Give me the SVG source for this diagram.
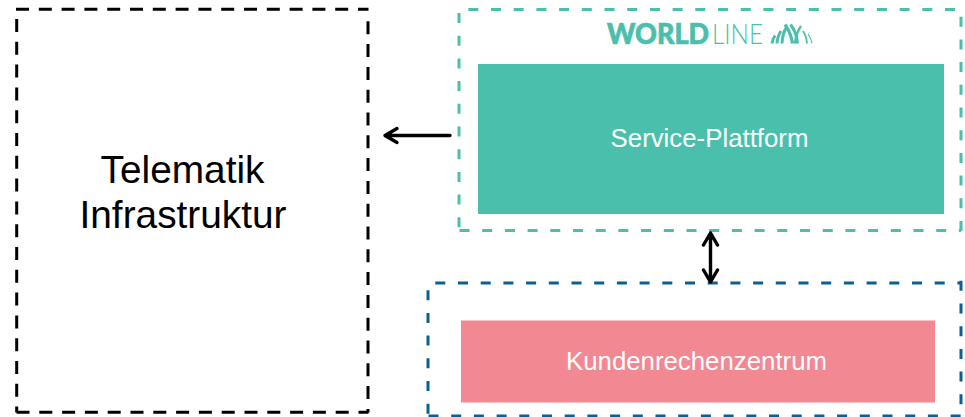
<svg xmlns="http://www.w3.org/2000/svg" width="965" height="417" viewBox="0 0 965 417">
<defs>
<style>
.box{fill:none;stroke-width:3}
.k{stroke:#000;stroke-dasharray:13 9.8}
.t{stroke:#4abfab;stroke-dasharray:10 12.700}
.n{stroke:#0d5f8f;stroke-dasharray:10 12.700}
.lbl{font-family:"Liberation Sans",Arial,sans-serif;text-anchor:middle}
.w{fill:#fff;font-size:25.800px}
.b{fill:#000;font-size:38.800px}
.conn{fill:none;stroke:#000;stroke-width:3.400;stroke-linecap:round;stroke-linejoin:round}
.wave{fill:none;stroke:#4abfab}
</style>
</defs>
<rect width="965" height="417" fill="#fff"/>
<g id="telematik">
<path class="box k" d="M16 9.300H368.500M16.700 19V412.500M368 21.300V412.500M16.500 412.300H368.500"/>
<text class="lbl b" x="182.500" y="183">Telematik</text>
<text class="lbl b" x="183" y="228">Infrastruktur</text>
</g>
<g id="worldline">
<path class="box t" d="M468.300 9.500H961M459 13V230M961 16.700V231.500M459.500 230.500H961"/>
<text x="607" y="44.300" font-family="Lato,sans-serif" font-size="28" font-weight="900" fill="#4abfab" stroke="#4abfab" stroke-width="0.700" textLength="102" lengthAdjust="spacingAndGlyphs">WORLD</text>
<text x="712" y="44.300" font-family="Lato,sans-serif" font-size="28" font-weight="300" fill="#4abfab" textLength="51" lengthAdjust="spacingAndGlyphs">LINE</text>
<g class="wave">
<path stroke-width="3" d="M772 43.500Q772.500 39 775 35.500"/>
<path stroke-width="3" d="M777 43.500Q777.500 36 781 31"/>
<path stroke-width="3" d="M782 43.500Q782.500 33 786.500 27.500"/>
<path stroke-width="3.200" d="M785 24.500Q791 33 792.500 43.500"/>
<path stroke-width="3" d="M790.500 24.500Q796.500 32 797.500 43.500"/>
<path stroke-width="2.400" d="M801 26Q796 33 795 43.500"/>
<path stroke-width="1.800" d="M803 31Q806.500 36 807 43.500"/>
<path stroke-width="1.200" d="M808 34Q811 38 812 43.500"/>
</g>
</g>
<g id="service-plattform">
<rect x="478" y="64" width="466" height="150" fill="#4abfab"/>
<text class="lbl w" x="709.500" y="147">Service-Plattform</text>
</g>
<g id="kundenrechenzentrum-frame">
<path class="box n" d="M435.300 283H961M428 290.200V416.500M961 280.800V416.500M428.500 416H961"/>
</g>
<g id="kundenrechenzentrum">
<rect x="461" y="320.500" width="474" height="82" fill="#f28891"/>
<text class="lbl w" x="696.500" y="370">Kundenrechenzentrum</text>
</g>
<g id="connectors">
<path class="conn" d="M450 135.500H385M397 128.500L385 135.500L397 142.500"/>
<path class="conn" d="M710.500 233V282M703.500 245L710.500 233L717.500 245M703.500 270L710.500 282L717.500 270"/>
</g>
</svg>
